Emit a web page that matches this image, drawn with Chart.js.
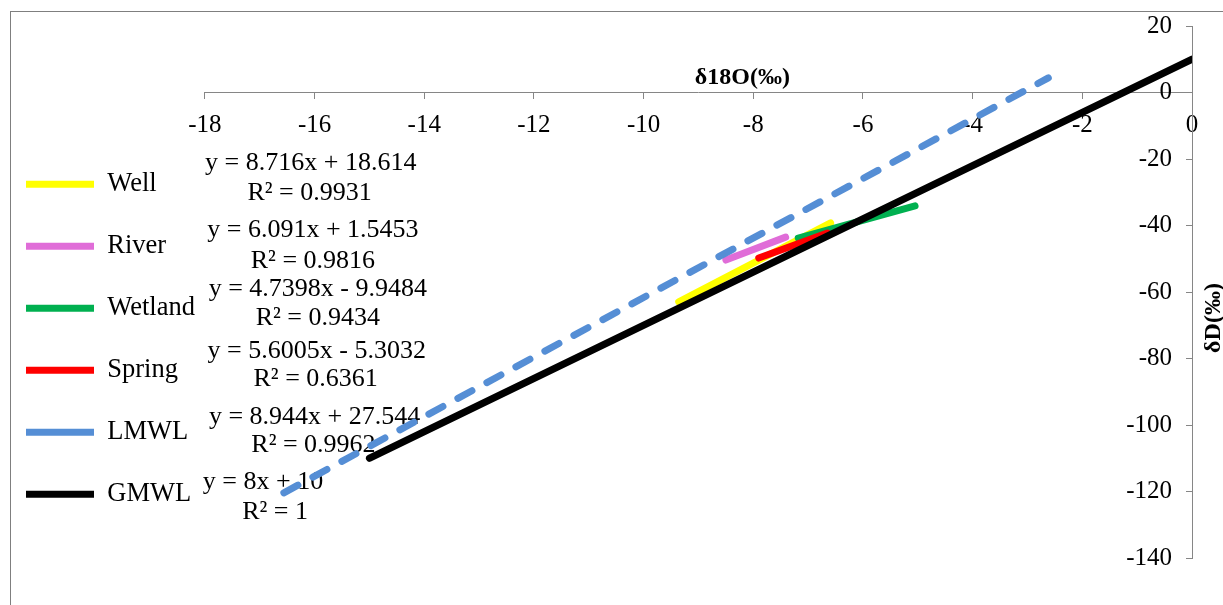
<!DOCTYPE html>
<html>
<head>
<meta charset="utf-8">
<script src="https://cdn.jsdelivr.net/npm/chart.js@4.4.1/dist/chart.umd.min.js"></script>
<style>
  html, body { margin: 0; padding: 0; background: #fff; }
  #wrap { width: 1223px; height: 605px; }
</style>
</head>
<body>
<div id="wrap"><canvas id="isoChart"></canvas></div>
<script>
// series (trendline end points, δ18O vs δD)
const seriesNames = ['Well', 'River', 'Wetland', 'Spring', 'LMWL', 'GMWL'];
const wellX = [-9.36, -6.59];
const wellY = [-63.0, -39.2];
const riverX = [-8.50, -7.41];
const riverY = [-50.4, -43.5];
const wetlandX = [-7.18, -5.05];
const wetlandY = [-43.8, -34.1];
const springX = [-7.90, -6.65];
const springY = [-49.8, -42.3];
const lmwlX = [-16.56, -2.62];
const lmwlY = [-120.4, 4.4];
const gmwlX = [-15, 0];
const gmwlY = [-110, 10];

const equations = ['y = 8.716x + 18.614', 'y = 6.091x + 1.5453', 'y = 4.7398x - 9.9484',
                   'y = 5.6005x - 5.3032', 'y = 8.944x + 27.544', 'y = 8x + 10'];
const rSquared = ['R² = 0.9931', 'R² = 0.9816', 'R² = 0.9434', 'R² = 0.6361', 'R² = 0.9962', 'R² = 1'];

const xMin = -18, xMax = 0, xStep = 2;
const yMin = -140, yMax = 20, yStep = 20;

// where the equation labels sit, in data units: [eqX, eqY, r2X, r2Y]
const labelSpots = [
    [-16.07, -21.2, -16.09, -30.2],
    [-16.03, -41.4, -16.03, -50.7],
    [-15.94, -59.1, -15.94, -67.8],
    [-15.96, -77.7, -15.98, -86.2],
    [-16.00, -97.6, -16.02, -106.0],
    [-16.94, -117.2, -16.72, -126.2]
];

const colors = ['#FFFF00', '#E06DD8', '#00B050', '#FF0000', '#558ED5', '#000000'];
const serif = "'Liberation Serif', 'Times New Roman', serif";

const pairs = (xs, ys) => xs.map((x, i) => ({x: x, y: ys[i]}));
const allX = [wellX, riverX, wetlandX, springX, lmwlX, gmwlX];
const allY = [wellY, riverY, wetlandY, springY, lmwlY, gmwlY];

const datasets = seriesNames.map((name, i) => ({
    label: name,
    data: pairs(allX[i], allY[i]),
    showLine: true,
    borderColor: colors[i],
    backgroundColor: colors[i],
    borderWidth: 7,
    borderCapStyle: 'round',
    borderDash: name === 'LMWL' ? [16, 17] : [],
    pointRadius: 0,
    pointHoverRadius: 0,
    // later series on top, like the original
    order: seriesNames.length - 1 - i
}));

const chartFrame = {
    id: 'chartFrame',
    beforeDraw(chart) {
        const ctx = chart.ctx;
        ctx.save();
        ctx.fillStyle = '#fff';
        ctx.fillRect(0, 0, chart.width, chart.height);
        ctx.strokeStyle = '#7f7f7f';
        ctx.lineWidth = 1;
        ctx.strokeRect(10.5, 11.5, chart.width + 20, chart.height + 20);
        ctx.restore();
    }
};

const equationLabels = {
    id: 'equationLabels',
    beforeDatasetsDraw(chart) {
        const ctx = chart.ctx;
        const xs = chart.scales.x, ys = chart.scales.y;
        ctx.save();
        ctx.fillStyle = '#000';
        ctx.font = '26px ' + serif;
        ctx.textAlign = 'center';
        ctx.textBaseline = 'middle';
        labelSpots.forEach((spot, i) => {
            ctx.fillText(equations[i], xs.getPixelForValue(spot[0]), ys.getPixelForValue(spot[1]));
            ctx.fillText(rSquared[i], xs.getPixelForValue(spot[2]), ys.getPixelForValue(spot[3]));
        });
        ctx.restore();
    }
};

const axisTitles = {
    id: 'axisTitles',
    afterDraw(chart) {
        const ctx = chart.ctx;
        const xs = chart.scales.x, ys = chart.scales.y;
        ctx.save();
        ctx.fillStyle = '#000';
        ctx.font = 'bold 24px ' + serif;
        ctx.textAlign = 'center';
        ctx.textBaseline = 'middle';
        ctx.fillText('δ18O(‰)', xs.getPixelForValue(-8.2), ys.getPixelForValue(0) - 15);
        ctx.translate(chart.width - 9, (ys.top + ys.bottom) / 2 + 26);
        ctx.rotate(-Math.PI / 2);
        ctx.fillText('δD(‰)', 0, 0);
        ctx.restore();
    }
};

const ctx = document.getElementById('isoChart').getContext('2d');
const isoChart = new Chart(ctx, {
    type: 'scatter',
    data: { datasets: datasets },
    options: {
        responsive: true,
        maintainAspectRatio: false,
        animation: false,
        layout: { padding: { left: -9.5, top: 26, right: 0, bottom: 47 } },
        plugins: {
            tooltip: { enabled: false },
            legend: {
                position: 'left',
                align: 'start',
                title: { display: true, text: '', padding: { top: 95, bottom: 0 } },
                labels: {
                    usePointStyle: true,
                    pointStyle: 'line',
                    pointStyleWidth: 68,
                    color: '#000',
                    font: { family: serif, size: 26.5 },
                    padding: 35.5,
                    sort: (a, b) => a.datasetIndex - b.datasetIndex
                }
            }
        },
        scales: {
            x: {
                type: 'linear',
                position: { y: 0 },
                min: xMin,
                max: xMax,
                ticks: { stepSize: xStep, color: '#000', font: { family: serif, size: 25 }, padding: 12, maxRotation: 0 },
                grid: { drawOnChartArea: false, drawTicks: true, tickLength: 6, color: '#868686' },
                border: { color: '#868686', width: 1 },
                afterFit(scale) { scale.height = 0; }
            },
            y: {
                type: 'linear',
                position: 'right',
                min: yMin,
                max: yMax,
                ticks: { stepSize: yStep, mirror: true, padding: -20, color: '#000', font: { family: serif, size: 25 } },
                grid: { drawOnChartArea: false, drawTicks: true, tickLength: -6, color: '#868686' },
                border: { color: '#868686', width: 1 },
                afterFit(scale) { scale.width = 31; }
            }
        }
    },
    plugins: [chartFrame, equationLabels, axisTitles]
});
</script>
</body>
</html>
